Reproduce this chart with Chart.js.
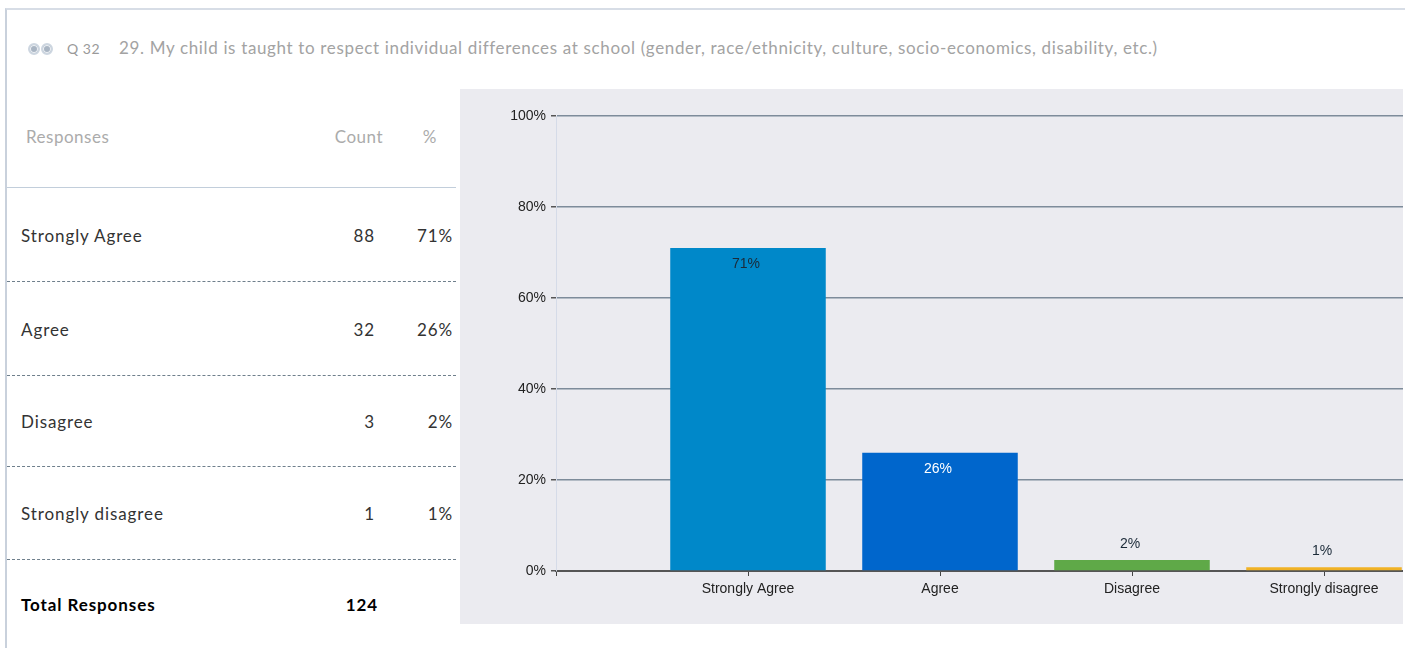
<!DOCTYPE html>
<html>
<head>
<meta charset="utf-8">
<script src="https://cdn.jsdelivr.net/npm/chart.js@4"></script>
<style>
	html, body { margin: 0; padding: 0; background: #fff; width: 1411px; height: 648px; overflow: hidden; }
	body { position: relative; font-family: Lato, "Open Sans", sans-serif; }
	.q-header {
		position: absolute; left: 5px; top: 8px; width: 1398px; height: 77px;
		border-top: 2px solid #d7dde6; border-left: 2px solid #c9d1dc;
		background: #fff;
	}
	.q-dots { position: absolute; left: 21px; top: 33px; display: flex; gap: 1px; }
	.q-dots span {
		display: block; width: 12px; height: 12px; border-radius: 50%;
		border: 2px solid #cdd6e0; background: #a9b5c3; box-sizing: border-box;
		box-shadow: inset 0 0 0 1px #eef1f5;
	}
	.q-num { position: absolute; left: 60px; top: 30px; font-size: 14px; color: #9a9a9a; letter-spacing: 0.5px; }
	.q-title { position: absolute; left: 112px; top: 27px; font-size: 17px; color: #a3a3a3; white-space: nowrap; letter-spacing: 0.65px; }
	.side-line { position: absolute; left: 5px; top: 85px; width: 2px; height: 563px; background: #c9d1dc; }
	.resp-table { position: absolute; left: 7px; top: 85px; width: 449px; }
	.resp-row { position: relative; height: 93px; border-bottom: 1px dashed #6f7f8c; font-size: 17px; color: #333; letter-spacing: 0.9px; }
	.resp-row.head { height: 102px; border-bottom: 1px solid #c2cedb; color: #ababab; letter-spacing: 0.5px; }
	.resp-row.r2 { height: 90px; }
	.resp-row.r3 { height: 92px; }
	.resp-row.total { height: 88px; border-bottom: none; font-weight: bold; color: #000; }
	.resp-row span { position: absolute; top: 50%; transform: translateY(-50%); white-space: nowrap; }
	.chart-box {
		position: absolute; left: 460px; top: 89px; width: 943px; height: 535px;
		background: #ebebf0; overflow: hidden;
	}
	.chart-box canvas { position: absolute; left: 0; top: 0; }
</style>
</head>
<body>
<div class="q-header">
	<div class="q-dots"><span></span><span></span></div>
	<div class="q-num">Q 32</div>
	<div class="q-title">29. My child is taught to respect individual differences at school (gender, race/ethnicity, culture, socio-economics, disability, etc.)</div>
</div>
<div class="side-line"></div>
<div class="resp-table" id="resp-table"></div>
<div class="chart-box">
	<canvas id="chart" width="1100" height="535"></canvas>
</div>

<script>
	// survey data
	const categories = ["Strongly Agree", "Agree", "Disagree", "Strongly disagree"];
	const counts = [88, 32, 3, 1];
	const percentValues = [71, 26, 2.4, 0.8];
	const percentLabels = ["71%", "26%", "2%", "1%"];
	const totalResponses = 124;
	const yTicks = [0, 20, 40, 60, 80, 100];

	const barColors = ["#0088c9", "#0066cc", "#5fa948", "#f0b226"];
	const insideLabelColors = ["#1b2a38", "#ffffff", "#1b2a38", "#1b2a38"];

	// left table
	const table = document.getElementById("resp-table");
	table.innerHTML = `
		<div class="resp-row head">
			<span style="left:19px">Responses</span>
			<span style="right:73px">Count</span>
			<span style="right:19px">%</span>
		</div>
	` + categories.map((c, i) => `
		<div class="resp-row r${i}">
			<span style="left:14px">${c}</span>
			<span style="right:81px">${counts[i]}</span>
			<span style="right:3px">${percentLabels[i]}</span>
		</div>
	`).join("") + `
		<div class="resp-row total">
			<span style="left:14px">Total Responses</span>
			<span style="right:78px">${totalResponses}</span>
		</div>
	`;

	// the plotted axis has an empty slot before and after the categories
	const axisLabels = ["", ...categories, ""];
	const axisValues = [null, ...percentValues, null];
	const axisColors = ["transparent", ...barColors, "transparent"];

	const barLabels = {
		id: "barLabels",
		afterDatasetsDraw(chart) {
			const ctx = chart.ctx;
			const meta = chart.getDatasetMeta(0);
			ctx.save();
			ctx.font = "14px 'Liberation Sans', Arial, sans-serif";
			ctx.textAlign = "center";
			ctx.textBaseline = "middle";
			categories.forEach((c, i) => {
				const bar = meta.data[i + 1];
				if (!bar) return;
				if (percentValues[i] >= 10) {
					ctx.fillStyle = insideLabelColors[i];
					ctx.fillText(percentLabels[i], bar.x - 2, bar.y + 16);
				} else {
					ctx.fillStyle = "#1b2a38";
					ctx.fillText(percentLabels[i], bar.x - 2, bar.y - 16);
				}
			});
			ctx.restore();
		}
	};

	new Chart(document.getElementById("chart"), {
		type: "bar",
		data: {
			labels: axisLabels,
			datasets: [{
				data: axisValues,
				backgroundColor: axisColors,
				barPercentage: 0.81,
				categoryPercentage: 1
			}]
		},
		options: {
			responsive: false,
			animation: false,
			layout: { padding: { left: 0, top: 27, right: 44, bottom: 0 } },
			plugins: {
				legend: { display: false },
				tooltip: { enabled: false }
			},
			scales: {
				x: {
					offset: false,
					grid: {
						offset: false,
						color: ctx => ctx.index === 0 ? "#d5dbe8" : "transparent",
						tickColor: "#444",
						tickLength: 5,
						lineWidth: 1
					},
					border: { color: "#555", width: 2 },
					ticks: {
						color: "#222",
						padding: 5,
						maxRotation: 0,
						autoSkip: false,
						font: { family: "'Liberation Sans', Arial, sans-serif", size: 14 }
					},
					afterFit: scale => { scale.height = 53; }
				},
				y: {
					min: 0,
					max: 100,
					afterBuildTicks: scale => { scale.ticks = yTicks.map(v => ({ value: v })); },
					grid: {
						color: "#7d8b9a",
						tickColor: "#555",
						tickLength: 5,
						lineWidth: 1.5
					},
					border: { color: "#d5dbe8", width: 1 },
					ticks: {
						color: "#222",
						padding: 5,
						callback: v => v + "%",
						font: { family: "'Liberation Sans', Arial, sans-serif", size: 14 }
					},
					afterFit: scale => { scale.width = 96; }
				}
			}
		},
		plugins: [barLabels]
	});
</script>
</body>
</html>
